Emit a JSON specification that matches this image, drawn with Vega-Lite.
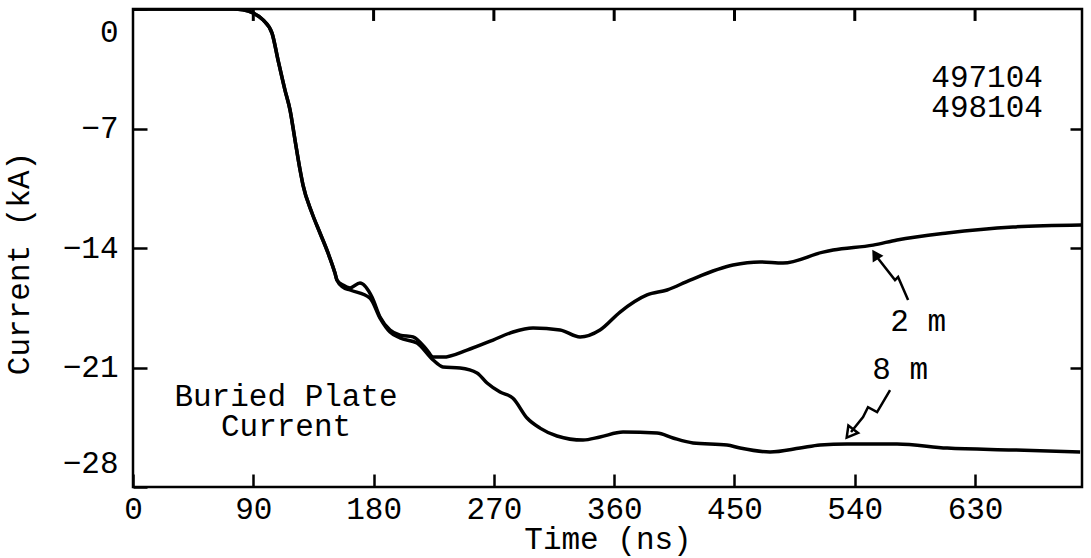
{
  "$schema": "https://vega.github.io/schema/vega-lite/v6.json",
  "width": 949,
  "height": 478,
  "autosize": {"type": "none"},
  "padding": {"left": 133, "top": 9, "right": 9, "bottom": 71},
  "background": "white",
  "config": {
    "view": {"stroke": "black", "strokeWidth": 2.5},
    "font": "Liberation Mono",
    "axis": {
      "grid": false,
      "domain": false,
      "tickColor": "black",
      "tickWidth": 2.5,
      "labelColor": "black",
      "labelFont": "Liberation Mono",
      "labelFontSize": 31,
      "titleFont": "Liberation Mono",
      "titleFontSize": 31,
      "titleFontWeight": "normal",
      "titleColor": "black"
    }
  },
  "datasets": {
    "curves": [
      {"series": "2 m", "t": 0, "i": 0},
      {"series": "2 m", "t": 75, "i": 0},
      {"series": "2 m", "t": 82.3, "i": -0.05},
      {"series": "2 m", "t": 89.8, "i": -0.23},
      {"series": "2 m", "t": 97.3, "i": -0.64},
      {"series": "2 m", "t": 104.0, "i": -1.41},
      {"series": "2 m", "t": 108.5, "i": -2.99},
      {"series": "2 m", "t": 113.7, "i": -4.75},
      {"series": "2 m", "t": 117.5, "i": -5.92},
      {"series": "2 m", "t": 121.2, "i": -7.67},
      {"series": "2 m", "t": 125.0, "i": -9.43},
      {"series": "2 m", "t": 127.2, "i": -10.31},
      {"series": "2 m", "t": 133.9, "i": -11.95},
      {"series": "2 m", "t": 139.9, "i": -13.12},
      {"series": "2 m", "t": 145.9, "i": -14.29},
      {"series": "2 m", "t": 151.1, "i": -15.47},
      {"series": "2 m", "t": 152.6, "i": -15.88},
      {"series": "2 m", "t": 157.1, "i": -16.17},
      {"series": "2 m", "t": 162.4, "i": -16.34},
      {"series": "2 m", "t": 169.8, "i": -16.05},
      {"series": "2 m", "t": 178.8, "i": -16.87},
      {"series": "2 m", "t": 184.8, "i": -18.04},
      {"series": "2 m", "t": 192.3, "i": -18.80},
      {"series": "2 m", "t": 199.8, "i": -19.10},
      {"series": "2 m", "t": 209.5, "i": -19.21},
      {"series": "2 m", "t": 220.0, "i": -19.98},
      {"series": "2 m", "t": 224.5, "i": -20.39},
      {"series": "2 m", "t": 231.9, "i": -20.39},
      {"series": "2 m", "t": 249.9, "i": -19.98},
      {"series": "2 m", "t": 269.4, "i": -19.39},
      {"series": "2 m", "t": 284.3, "i": -18.92},
      {"series": "2 m", "t": 299.3, "i": -18.69},
      {"series": "2 m", "t": 319.5, "i": -18.80},
      {"series": "2 m", "t": 334.5, "i": -19.21},
      {"series": "2 m", "t": 349.4, "i": -18.80},
      {"series": "2 m", "t": 364.4, "i": -17.75},
      {"series": "2 m", "t": 384.6, "i": -16.75},
      {"series": "2 m", "t": 399.6, "i": -16.46},
      {"series": "2 m", "t": 416.8, "i": -15.88},
      {"series": "2 m", "t": 448.9, "i": -15.00},
      {"series": "2 m", "t": 469.1, "i": -14.82},
      {"series": "2 m", "t": 486.3, "i": -14.88},
      {"series": "2 m", "t": 516.3, "i": -14.24},
      {"series": "2 m", "t": 523.8, "i": -14.12},
      {"series": "2 m", "t": 553.7, "i": -13.83},
      {"series": "2 m", "t": 571.6, "i": -13.53},
      {"series": "2 m", "t": 609.1, "i": -13.12},
      {"series": "2 m", "t": 658.4, "i": -12.77},
      {"series": "2 m", "t": 709.3, "i": -12.65},
      {"series": "8 m", "t": 0, "i": 0},
      {"series": "8 m", "t": 75, "i": 0},
      {"series": "8 m", "t": 82.3, "i": -0.05},
      {"series": "8 m", "t": 89.8, "i": -0.23},
      {"series": "8 m", "t": 97.3, "i": -0.64},
      {"series": "8 m", "t": 104.0, "i": -1.41},
      {"series": "8 m", "t": 108.5, "i": -2.99},
      {"series": "8 m", "t": 113.7, "i": -4.75},
      {"series": "8 m", "t": 117.5, "i": -5.92},
      {"series": "8 m", "t": 121.2, "i": -7.67},
      {"series": "8 m", "t": 125.0, "i": -9.43},
      {"series": "8 m", "t": 127.2, "i": -10.31},
      {"series": "8 m", "t": 133.9, "i": -11.95},
      {"series": "8 m", "t": 139.9, "i": -13.12},
      {"series": "8 m", "t": 145.9, "i": -14.29},
      {"series": "8 m", "t": 151.1, "i": -15.47},
      {"series": "8 m", "t": 152.6, "i": -15.88},
      {"series": "8 m", "t": 157.1, "i": -16.29},
      {"series": "8 m", "t": 162.4, "i": -16.46},
      {"series": "8 m", "t": 177.3, "i": -16.93},
      {"series": "8 m", "t": 184.8, "i": -18.10},
      {"series": "8 m", "t": 192.3, "i": -18.92},
      {"series": "8 m", "t": 199.8, "i": -19.27},
      {"series": "8 m", "t": 212.5, "i": -19.57},
      {"series": "8 m", "t": 224.5, "i": -20.56},
      {"series": "8 m", "t": 231.9, "i": -20.97},
      {"series": "8 m", "t": 244.7, "i": -21.03},
      {"series": "8 m", "t": 257.4, "i": -21.32},
      {"series": "8 m", "t": 264.9, "i": -21.91},
      {"series": "8 m", "t": 274.6, "i": -22.44},
      {"series": "8 m", "t": 284.3, "i": -22.80},
      {"series": "8 m", "t": 294.8, "i": -23.96},
      {"series": "8 m", "t": 304.5, "i": -24.55},
      {"series": "8 m", "t": 317.2, "i": -25.01},
      {"series": "8 m", "t": 336.7, "i": -25.25},
      {"series": "8 m", "t": 349.4, "i": -25.07},
      {"series": "8 m", "t": 366.6, "i": -24.78},
      {"series": "8 m", "t": 392.1, "i": -24.84},
      {"series": "8 m", "t": 404.0, "i": -25.13},
      {"series": "8 m", "t": 419.0, "i": -25.42},
      {"series": "8 m", "t": 444.4, "i": -25.54},
      {"series": "8 m", "t": 454.2, "i": -25.72},
      {"series": "8 m", "t": 476.6, "i": -25.95},
      {"series": "8 m", "t": 499.1, "i": -25.72},
      {"series": "8 m", "t": 514.0, "i": -25.54},
      {"series": "8 m", "t": 534.2, "i": -25.48},
      {"series": "8 m", "t": 571.6, "i": -25.48},
      {"series": "8 m", "t": 609.1, "i": -25.72},
      {"series": "8 m", "t": 658.4, "i": -25.83},
      {"series": "8 m", "t": 708.6, "i": -25.95}
    ],
    "arrows": [
      {"arrow": "2 m", "t": 579.9, "i": -17.05},
      {"arrow": "2 m", "t": 572.4, "i": -15.70},
      {"arrow": "2 m", "t": 570.1, "i": -15.88},
      {"arrow": "2 m", "t": 556.0, "i": -14.47},
      {"arrow": "8 m", "t": 566.4, "i": -22.32},
      {"arrow": "8 m", "t": 556.7, "i": -23.61},
      {"arrow": "8 m", "t": 549.9, "i": -23.32},
      {"arrow": "8 m", "t": 546.2, "i": -23.90},
      {"arrow": "8 m", "t": 537.2, "i": -24.78}
    ],
    "heads": [
      {"arrow": "2 m", "t": 556.0, "i": -14.47},
      {"arrow": "8 m", "t": 537.2, "i": -24.78}
    ],
    "topticks": [
      {"t": 90}, {"t": 180}, {"t": 270}, {"t": 360}, {"t": 450}, {"t": 540}, {"t": 630}
    ],
    "notes": [
      {"text": "497104", "t": 639.0, "i": -4.04},
      {"text": "498104", "t": 639.0, "i": -5.80},
      {"text": "Buried Plate", "t": 114.5, "i": -22.73},
      {"text": "Current", "t": 114.5, "i": -24.49},
      {"text": "2 m", "t": 587.4, "i": -18.34},
      {"text": "8 m", "t": 573.9, "i": -21.15}
    ]
  },
  "layer": [
    {
      "data": {"name": "curves"},
      "mark": {"type": "line", "color": "black", "strokeWidth": 3.5, "interpolate": "monotone", "clip": true},
      "encoding": {
        "x": {
          "field": "t", "type": "quantitative",
          "scale": {"domain": [0, 710], "nice": false, "zero": false},
          "axis": {
            "orient": "bottom",
            "title": "Time (ns)",
            "values": [0, 90, 180, 270, 360, 450, 540, 630],
            "tickSize": -13,
            "labelPadding": 20,
            "labelFlush": false,
            "titlePadding": 0
          }
        },
        "y": {
          "field": "i", "type": "quantitative",
          "scale": {"domain": [-28, 0], "nice": false, "zero": false},
          "axis": {
            "orient": "left",
            "title": "Current (kA)",
            "values": [0, -7, -14, -21, -28],
            "tickSize": -14,
            "labelPadding": 29,
            "labelFlush": true,
            "labelFlushOffset": -8,
            "titlePadding": 27,
            "titleY": 254
          }
        },
        "detail": {"field": "series"}
      }
    },
    {
      "data": {"name": "notes"},
      "mark": {"type": "text", "font": "Liberation Mono", "fontSize": 31, "color": "black", "align": "center", "baseline": "middle"},
      "encoding": {
        "x": {
          "field": "t", "type": "quantitative",
          "scale": {"domain": [0, 710], "nice": false, "zero": false},
          "axis": null
        },
        "y": {
          "field": "i", "type": "quantitative",
          "scale": {"domain": [-28, 0], "nice": false, "zero": false},
          "axis": {"orient": "right", "title": null, "labels": false, "ticks": true, "tickColor": "black", "values": [-7, -14, -21], "tickSize": -12}
        },
        "text": {"field": "text"}
      }
    },
    {
      "data": {"name": "topticks"},
      "mark": {"type": "rule", "color": "black", "strokeWidth": 3, "clip": false},
      "encoding": {
        "x": {"field": "t", "type": "quantitative", "scale": {"domain": [0, 710], "nice": false, "zero": false}, "axis": null},
        "y": {"datum": 0.05, "type": "quantitative", "scale": {"domain": [-28, 0], "nice": false, "zero": false}, "axis": null},
        "y2": {"datum": -0.7}
      }
    },
    {
      "data": {"name": "arrows"},
      "mark": {"type": "line", "color": "black", "strokeWidth": 2.5},
      "encoding": {
        "x": {"field": "t", "type": "quantitative", "scale": {"domain": [0, 710], "nice": false, "zero": false}, "axis": null},
        "y": {"field": "i", "type": "quantitative", "scale": {"domain": [-28, 0], "nice": false, "zero": false}, "axis": null},
        "detail": {"field": "arrow"}
      }
    },
    {
      "data": {"name": "heads"},
      "transform": [{"filter": "datum.arrow === '2 m'"}],
      "mark": {"type": "point", "shape": "triangle", "filled": true, "color": "black", "size": 160, "angle": 328, "opacity": 1},
      "encoding": {
        "x": {"field": "t", "type": "quantitative", "scale": {"domain": [0, 710], "nice": false, "zero": false}, "axis": null},
        "y": {"field": "i", "type": "quantitative", "scale": {"domain": [-28, 0], "nice": false, "zero": false}, "axis": null}
      }
    },
    {
      "data": {"name": "heads"},
      "transform": [{"filter": "datum.arrow === '8 m'"}],
      "mark": {"type": "point", "shape": "triangle", "filled": false, "color": "black", "strokeWidth": 2.5, "size": 150, "angle": 218, "opacity": 1},
      "encoding": {
        "x": {"field": "t", "type": "quantitative", "scale": {"domain": [0, 710], "nice": false, "zero": false}, "axis": null},
        "y": {"field": "i", "type": "quantitative", "scale": {"domain": [-28, 0], "nice": false, "zero": false}, "axis": null}
      }
    }
  ],
  "resolve": {"axis": {"x": "independent", "y": "independent"}}
}
